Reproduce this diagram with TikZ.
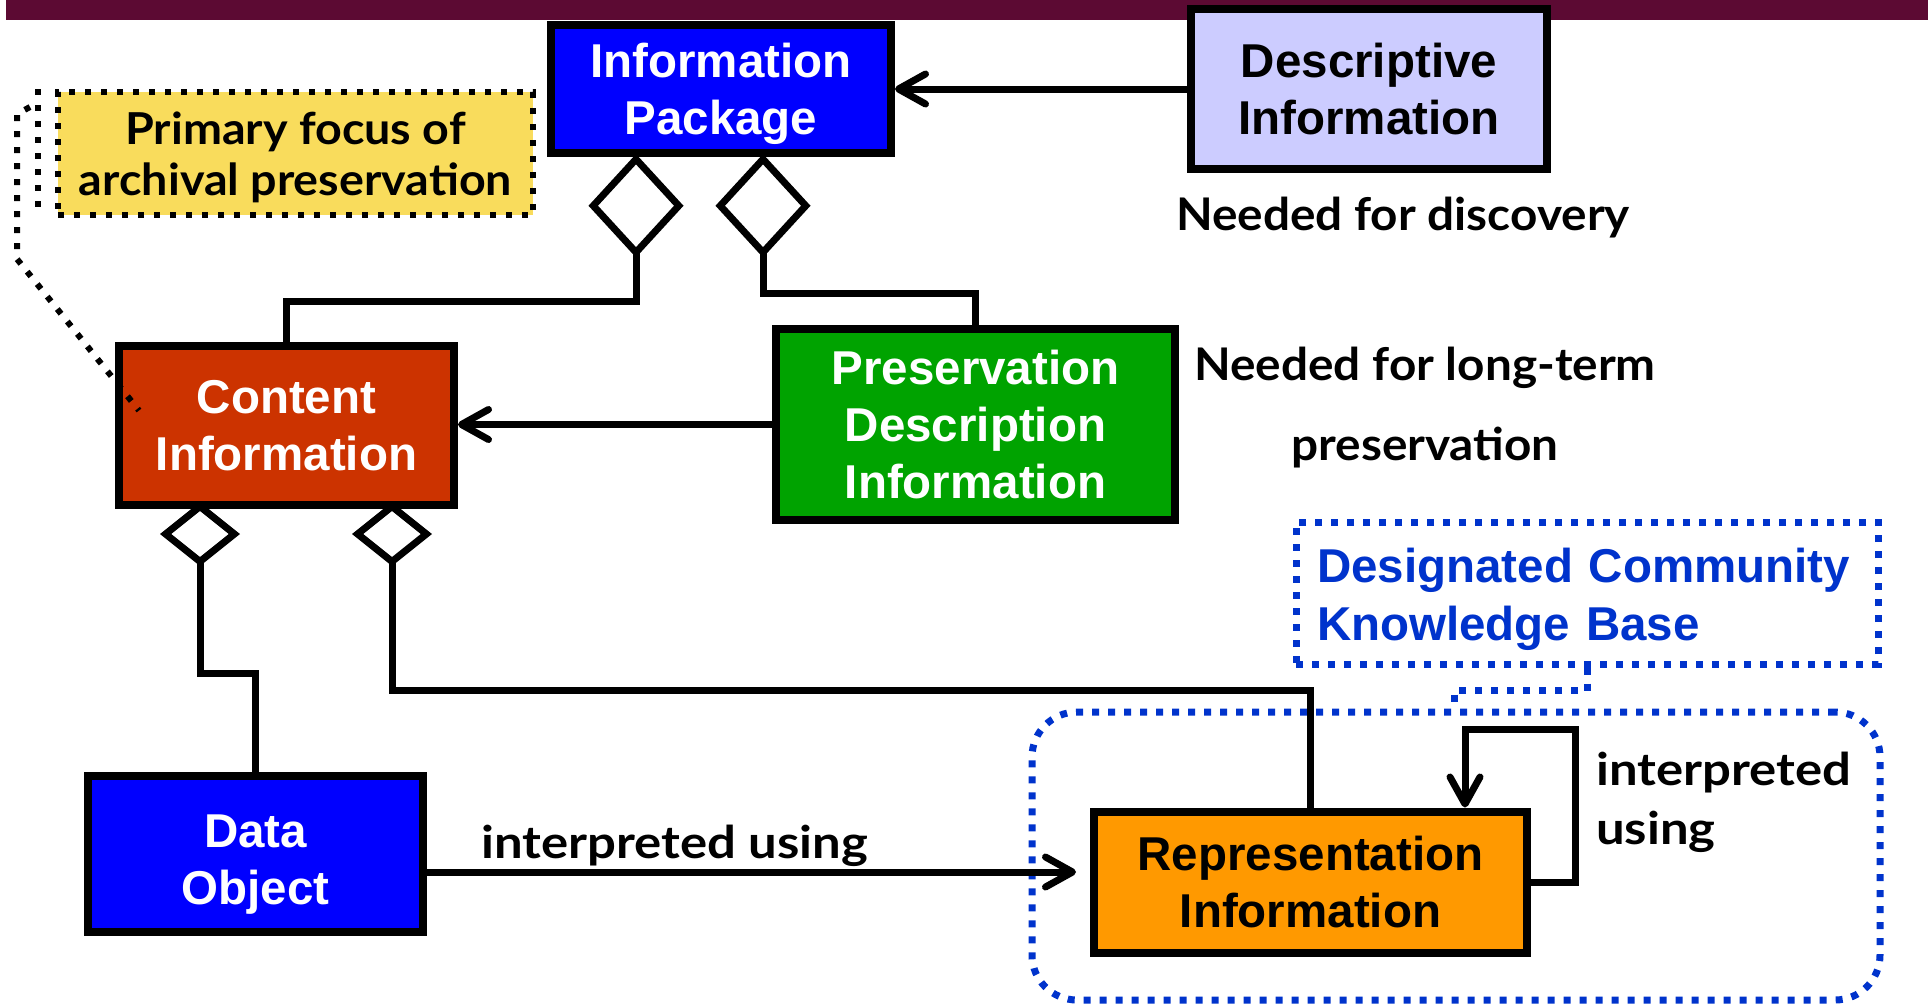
\documentclass[tikz,border=0pt]{standalone}
\usepackage{fontspec}
\setmainfont{Liberation Sans}
\newfontfamily\handfont{Lato}[FakeStretch=1.06]
\newfontfamily\widehand{Lato}[FakeStretch=1.13]
\usetikzlibrary{arrows.meta}

\definecolor{barred}{HTML}{5C0A33}
\definecolor{pkgblue}{HTML}{0000FF}
\definecolor{cired}{HTML}{CC3300}
\definecolor{pdigreen}{HTML}{00A300}
\definecolor{dilav}{HTML}{CCCCFF}
\definecolor{riorange}{HTML}{FF9900}
\definecolor{noteyellow}{HTML}{F9DC5C}
\definecolor{dcblue}{HTML}{0033CC}

\tikzset{
  box/.style={draw=black, line width=8pt, inner sep=0pt, align=center, text depth=0pt,
    font=\bfseries\fontsize{47.5}{57}\selectfont},
  dotline/.style={line width=6pt, dash pattern=on 6pt off 10pt},
  bluedot/.style={line width=7pt, dash pattern=on 7pt off 9pt, draw=dcblue},
  link/.style={line width=7pt},
  arr/.style={link, -{Straight Barb[length=27pt,width=30pt,round]}},
  aggbig/.style={link, {Diamond[open,length=103.5pt,width=95pt]}-},
  aggsmall/.style={link, {Diamond[open,length=64pt,width=80pt]}-},
  hand/.style={inner sep=0pt, font=\handfont\bfseries\fontsize{45}{54}\selectfont},
}

\begin{document}
\begin{tikzpicture}[x=1pt,y=-1pt]
\useasboundingbox (0,0) rectangle (1928,1005);
%bar
\fill[barred] (6,0) rectangle (1928,20);
%boxes
\node[box, fill=pkgblue, text=white, minimum width=340pt, minimum height=128pt] (ip) at (721,89) {Information\\Package};
\node[box, fill=dilav, minimum width=356pt, minimum height=160pt] (di) at (1369,89) {Descriptive\\Information};
\node[box, fill=cired, text=white, minimum width=335pt, minimum height=159pt] (ci) at (286.5,425.5) {Content\\Information};
\node[box, fill=pdigreen, text=white, minimum width=399pt, minimum height=191pt] (pdi) at (975.5,424.5) {Preservation\\Description\\Information};
\node[box, fill=pkgblue, text=white, minimum width=335pt, minimum height=156pt, text height=101pt] (dobj) at (255.5,854) {Data\\Object};
\node[box, fill=riorange, minimum width=433pt, minimum height=141pt] (ri) at (1310.5,882) {Representation\\Information};
%note
\node[dotline, draw=black, fill=noteyellow, minimum width=475pt, minimum height=123pt, inner sep=0pt, align=center, text depth=0pt,
  font=\handfont\bfseries\fontsize{44}{51}\selectfont] (focus) at (295.5,153.5) {Primary focus of\\archival preservation};
\draw[dotline] ([xshift=-17pt]focus.north west) -- ([xshift=-17pt,yshift=10pt]focus.south west);
\draw[dotline] ([xshift=-25pt,yshift=-18pt]focus.north west) -- ++(-13,7) -- ++(0,145) -- ([xshift=24pt,yshift=15pt]ci.west);
%community
\node[bluedot, draw, text=dcblue, text width=540pt, inner xsep=21pt, inner ysep=0pt, minimum height=142pt, text depth=55pt,
  align=left, font=\bfseries\fontsize{47.5}{58}\selectfont] (dckb) at (1587,593) {Designated Community\\Knowledge Base};
\node[bluedot, draw, rounded corners=45pt, minimum width=848pt, minimum height=288pt] (dcreg) at (1456,856) {};
\draw[bluedot] (dckb.south) -- ++(0,23) -| ([xshift=-2pt]dcreg.north);
%links
\draw[arr] (di.west) -- (ip.east);
\draw[arr] (pdi.west) -- (pdi.west -| ci.east);
\draw[aggbig] ([xshift=-85pt,yshift=3pt]ip.south) -- ++(0,147) -| (ci.north);
\draw[aggbig] ([xshift=42pt,yshift=3pt]ip.south) -- ++(0,139) -| (pdi.north);
\draw[aggsmall] ([xshift=-86.5pt,yshift=7pt]ci.south) -- ++(0,171) -| (dobj.north);
\draw[aggsmall] ([xshift=105.5pt,yshift=7pt]ci.south) -- ++(0,188) -| (ri.north);
\draw[arr] ([yshift=-18pt]dobj.east) -- ([yshift=-18pt,xshift=-14pt]dobj.east -| ri.west);
\draw[arr] (ri.east) -- ++(44,0) -- ++(0,-153) -| ([xshift=154.5pt]ri.north);
%Text
\node[hand, anchor=base, font=\widehand\bfseries\fontsize{45}{54}\selectfont] (iulow) at (675,858) {interpreted using};
\node[hand, anchor=base] (nfd) at (1403,230) {Needed for discovery};
\node[hand, align=center, font=\handfont\bfseries\fontsize{45}{80}\selectfont] (nflt) at (1425,408) {Needed for long-term\\preservation};
\node[hand, align=left, anchor=west, font=\widehand\bfseries\fontsize{45}{59}\selectfont] (iuloop) at (1596,802) {interpreted\\using};
\end{tikzpicture}
\end{document}
